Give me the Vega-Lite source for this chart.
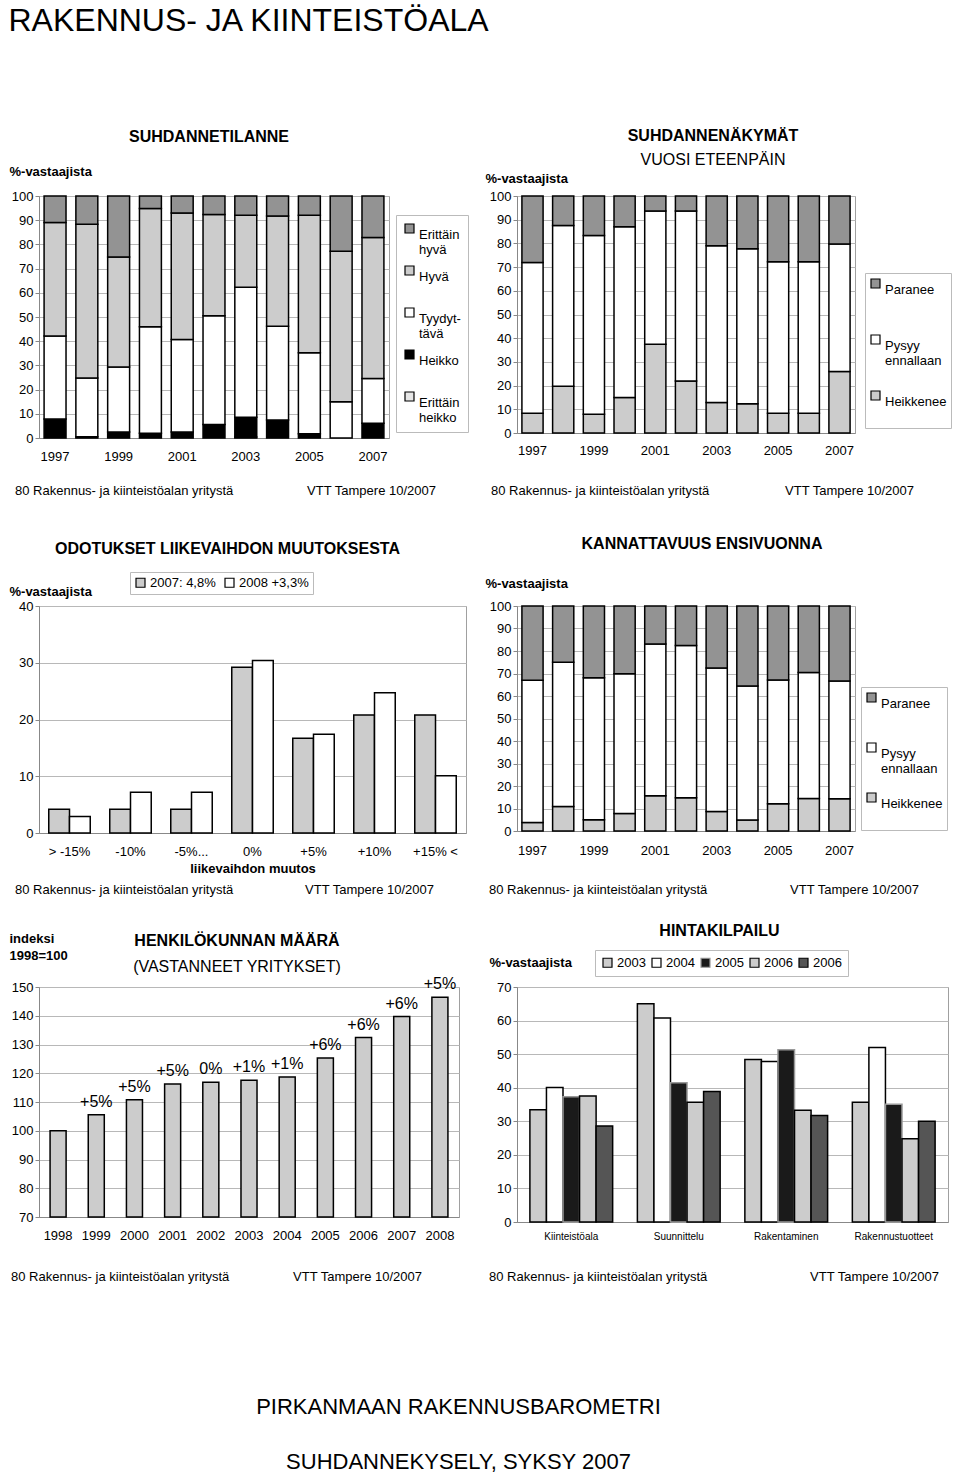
{
  "$schema": "https://vega.github.io/schema/vega-lite/v6.json",
  "background": "white",
  "padding": {"left": 8, "top": 4, "right": 0, "bottom": 0},
  "title": {"text": "RAKENNUS- JA KIINTEISTÖALA", "anchor": "start", "frame": "bounds", "fontSize": 32, "fontWeight": "normal", "offset": 90},
  "config": {
    "font": "Liberation Sans",
    "view": {"stroke": "#a0a0a0", "strokeWidth": 1},
    "axis": {"labelFontSize": 13, "labelColor": "#000000", "titleFontSize": 13, "titleFontWeight": "bold", "titleColor": "#000000", "domainColor": "#888888", "tickColor": "#888888", "gridColor": "#b8b8b8", "labelOverlap": false},
    "axisY": {"grid": true, "tickSize": 4, "labelPadding": 2, "titleAngle": 0, "titleAlign": "left", "titleBaseline": "middle"},
    "axisX": {"grid": false, "labelAngle": 0, "ticks": false, "tickSize": 0, "labelPadding": 12},
    "legend": {"labelFontSize": 13, "labelColor": "#000000", "symbolType": "square", "symbolSize": 81, "symbolStrokeColor": "#000000", "symbolStrokeWidth": 1.2, "strokeColor": "#bbbbbb", "fillColor": "white", "padding": 4, "labelOffset": 3},
    "title": {"fontSize": 16, "fontWeight": "bold", "color": "#000000", "subtitleColor": "#000000", "subtitleFontSize": 16, "subtitleFontWeight": "normal", "anchor": "middle", "frame": "group"}
  },
  "datasets": {
    "footer": [
      {"side": "l", "text": "80 Rakennus- ja kiinteistöalan yritystä"},
      {"side": "r", "text": "VTT Tampere 10/2007"}
    ],
    "bottom": [
      {"line": 1, "text": "PIRKANMAAN RAKENNUSBAROMETRI"},
      {"line": 2, "text": "SUHDANNEKYSELY,  SYKSY 2007"}
    ],
    "tilanne": [
      {"year": 1997, "level": "Heikko", "value": 7.8}, {"year": 1997, "level": "Tyydyttävä", "value": 34.4}, {"year": 1997, "level": "Hyvä", "value": 46.9}, {"year": 1997, "level": "Erittäin hyvä", "value": 10.9},
      {"year": 1998, "level": "Heikko", "value": 0.5}, {"year": 1998, "level": "Tyydyttävä", "value": 24.3}, {"year": 1998, "level": "Hyvä", "value": 63.5}, {"year": 1998, "level": "Erittäin hyvä", "value": 11.7},
      {"year": 1999, "level": "Heikko", "value": 2.5}, {"year": 1999, "level": "Tyydyttävä", "value": 26.8}, {"year": 1999, "level": "Hyvä", "value": 45.5}, {"year": 1999, "level": "Erittäin hyvä", "value": 25.2},
      {"year": 2000, "level": "Heikko", "value": 2.0}, {"year": 2000, "level": "Tyydyttävä", "value": 44.0}, {"year": 2000, "level": "Hyvä", "value": 48.8}, {"year": 2000, "level": "Erittäin hyvä", "value": 5.2},
      {"year": 2001, "level": "Heikko", "value": 2.5}, {"year": 2001, "level": "Tyydyttävä", "value": 38.2}, {"year": 2001, "level": "Hyvä", "value": 52.3}, {"year": 2001, "level": "Erittäin hyvä", "value": 7.0},
      {"year": 2002, "level": "Heikko", "value": 5.6}, {"year": 2002, "level": "Tyydyttävä", "value": 44.9}, {"year": 2002, "level": "Hyvä", "value": 41.9}, {"year": 2002, "level": "Erittäin hyvä", "value": 7.6},
      {"year": 2003, "level": "Erittäin heikko", "value": 0.4}, {"year": 2003, "level": "Heikko", "value": 8.2}, {"year": 2003, "level": "Tyydyttävä", "value": 53.7}, {"year": 2003, "level": "Hyvä", "value": 29.7}, {"year": 2003, "level": "Erittäin hyvä", "value": 8.0},
      {"year": 2004, "level": "Heikko", "value": 7.4}, {"year": 2004, "level": "Tyydyttävä", "value": 38.8}, {"year": 2004, "level": "Hyvä", "value": 45.5}, {"year": 2004, "level": "Erittäin hyvä", "value": 8.3},
      {"year": 2005, "level": "Heikko", "value": 1.8}, {"year": 2005, "level": "Tyydyttävä", "value": 33.4}, {"year": 2005, "level": "Hyvä", "value": 56.8}, {"year": 2005, "level": "Erittäin hyvä", "value": 8.0},
      {"year": 2006, "level": "Tyydyttävä", "value": 15.0}, {"year": 2006, "level": "Hyvä", "value": 62.2}, {"year": 2006, "level": "Erittäin hyvä", "value": 22.8},
      {"year": 2007, "level": "Heikko", "value": 6.1}, {"year": 2007, "level": "Tyydyttävä", "value": 18.5}, {"year": 2007, "level": "Hyvä", "value": 58.2}, {"year": 2007, "level": "Erittäin hyvä", "value": 17.2}
    ],
    "nakymat": [
      {"year": 1997, "level": "Heikkenee", "value": 8.3}, {"year": 1997, "level": "Pysyy ennallaan", "value": 63.6}, {"year": 1997, "level": "Paranee", "value": 28.1},
      {"year": 1998, "level": "Heikkenee", "value": 19.7}, {"year": 1998, "level": "Pysyy ennallaan", "value": 67.9}, {"year": 1998, "level": "Paranee", "value": 12.4},
      {"year": 1999, "level": "Heikkenee", "value": 7.9}, {"year": 1999, "level": "Pysyy ennallaan", "value": 75.4}, {"year": 1999, "level": "Paranee", "value": 16.7},
      {"year": 2000, "level": "Heikkenee", "value": 15.0}, {"year": 2000, "level": "Pysyy ennallaan", "value": 72.0}, {"year": 2000, "level": "Paranee", "value": 13.0},
      {"year": 2001, "level": "Heikkenee", "value": 37.4}, {"year": 2001, "level": "Pysyy ennallaan", "value": 56.3}, {"year": 2001, "level": "Paranee", "value": 6.3},
      {"year": 2002, "level": "Heikkenee", "value": 21.9}, {"year": 2002, "level": "Pysyy ennallaan", "value": 71.8}, {"year": 2002, "level": "Paranee", "value": 6.3},
      {"year": 2003, "level": "Heikkenee", "value": 12.9}, {"year": 2003, "level": "Pysyy ennallaan", "value": 66.1}, {"year": 2003, "level": "Paranee", "value": 21.0},
      {"year": 2004, "level": "Heikkenee", "value": 12.3}, {"year": 2004, "level": "Pysyy ennallaan", "value": 65.4}, {"year": 2004, "level": "Paranee", "value": 22.3},
      {"year": 2005, "level": "Heikkenee", "value": 8.3}, {"year": 2005, "level": "Pysyy ennallaan", "value": 64.0}, {"year": 2005, "level": "Paranee", "value": 27.7},
      {"year": 2006, "level": "Heikkenee", "value": 8.3}, {"year": 2006, "level": "Pysyy ennallaan", "value": 64.0}, {"year": 2006, "level": "Paranee", "value": 27.7},
      {"year": 2007, "level": "Heikkenee", "value": 25.9}, {"year": 2007, "level": "Pysyy ennallaan", "value": 53.8}, {"year": 2007, "level": "Paranee", "value": 20.3}
    ],
    "kannattavuus": [
      {"year": 1997, "level": "Heikkenee", "value": 3.8}, {"year": 1997, "level": "Pysyy ennallaan", "value": 63.2}, {"year": 1997, "level": "Paranee", "value": 33.0},
      {"year": 1998, "level": "Heikkenee", "value": 10.9}, {"year": 1998, "level": "Pysyy ennallaan", "value": 64.1}, {"year": 1998, "level": "Paranee", "value": 25.0},
      {"year": 1999, "level": "Heikkenee", "value": 5.0}, {"year": 1999, "level": "Pysyy ennallaan", "value": 63.1}, {"year": 1999, "level": "Paranee", "value": 31.9},
      {"year": 2000, "level": "Heikkenee", "value": 7.8}, {"year": 2000, "level": "Pysyy ennallaan", "value": 62.1}, {"year": 2000, "level": "Paranee", "value": 30.1},
      {"year": 2001, "level": "Heikkenee", "value": 15.7}, {"year": 2001, "level": "Pysyy ennallaan", "value": 67.4}, {"year": 2001, "level": "Paranee", "value": 16.9},
      {"year": 2002, "level": "Heikkenee", "value": 14.8}, {"year": 2002, "level": "Pysyy ennallaan", "value": 67.6}, {"year": 2002, "level": "Paranee", "value": 17.6},
      {"year": 2003, "level": "Heikkenee", "value": 8.7}, {"year": 2003, "level": "Pysyy ennallaan", "value": 63.8}, {"year": 2003, "level": "Paranee", "value": 27.5},
      {"year": 2004, "level": "Heikkenee", "value": 4.9}, {"year": 2004, "level": "Pysyy ennallaan", "value": 59.6}, {"year": 2004, "level": "Paranee", "value": 35.5},
      {"year": 2005, "level": "Heikkenee", "value": 12.1}, {"year": 2005, "level": "Pysyy ennallaan", "value": 55.0}, {"year": 2005, "level": "Paranee", "value": 32.9},
      {"year": 2006, "level": "Heikkenee", "value": 14.4}, {"year": 2006, "level": "Pysyy ennallaan", "value": 56.1}, {"year": 2006, "level": "Paranee", "value": 29.5},
      {"year": 2007, "level": "Heikkenee", "value": 14.3}, {"year": 2007, "level": "Pysyy ennallaan", "value": 52.4}, {"year": 2007, "level": "Paranee", "value": 33.3}
    ],
    "odotukset": [
      {"change": "> -15%", "series": "2007: 4,8%", "value": 4.2}, {"change": "> -15%", "series": "2008 +3,3%", "value": 2.9},
      {"change": "-10%", "series": "2007: 4,8%", "value": 4.2}, {"change": "-10%", "series": "2008 +3,3%", "value": 7.2},
      {"change": "-5%...", "series": "2007: 4,8%", "value": 4.2}, {"change": "-5%...", "series": "2008 +3,3%", "value": 7.2},
      {"change": "0%", "series": "2007: 4,8%", "value": 29.2}, {"change": "0%", "series": "2008 +3,3%", "value": 30.4},
      {"change": "+5%", "series": "2007: 4,8%", "value": 16.7}, {"change": "+5%", "series": "2008 +3,3%", "value": 17.4},
      {"change": "+10%", "series": "2007: 4,8%", "value": 20.8}, {"change": "+10%", "series": "2008 +3,3%", "value": 24.7},
      {"change": "+15% <", "series": "2007: 4,8%", "value": 20.8}, {"change": "+15% <", "series": "2008 +3,3%", "value": 10.1}
    ],
    "henkilo": [
      {"year": 1998, "index": 100.0, "label": ""},
      {"year": 1999, "index": 105.6, "label": "+5%"},
      {"year": 2000, "index": 110.8, "label": "+5%"},
      {"year": 2001, "index": 116.3, "label": "+5%"},
      {"year": 2002, "index": 116.9, "label": "0%"},
      {"year": 2003, "index": 117.6, "label": "+1%"},
      {"year": 2004, "index": 118.7, "label": "+1%"},
      {"year": 2005, "index": 125.3, "label": "+6%"},
      {"year": 2006, "index": 132.4, "label": "+6%"},
      {"year": 2007, "index": 139.7, "label": "+6%"},
      {"year": 2008, "index": 146.4, "label": "+5%"}
    ],
    "hinta": [
      {"sector": "Kiinteistöala", "year": "2003", "value": 33.4}, {"sector": "Kiinteistöala", "year": "2004", "value": 40.1}, {"sector": "Kiinteistöala", "year": "2005", "value": 37.3}, {"sector": "Kiinteistöala", "year": "2006", "value": 37.5}, {"sector": "Kiinteistöala", "year": "2006 ", "value": 28.6},
      {"sector": "Suunnittelu", "year": "2003", "value": 65.0}, {"sector": "Suunnittelu", "year": "2004", "value": 60.8}, {"sector": "Suunnittelu", "year": "2005", "value": 41.5}, {"sector": "Suunnittelu", "year": "2006", "value": 35.7}, {"sector": "Suunnittelu", "year": "2006 ", "value": 38.9},
      {"sector": "Rakentaminen", "year": "2003", "value": 48.4}, {"sector": "Rakentaminen", "year": "2004", "value": 47.8}, {"sector": "Rakentaminen", "year": "2005", "value": 51.3}, {"sector": "Rakentaminen", "year": "2006", "value": 33.3}, {"sector": "Rakentaminen", "year": "2006 ", "value": 31.7},
      {"sector": "Rakennustuotteet", "year": "2003", "value": 35.7}, {"sector": "Rakennustuotteet", "year": "2004", "value": 52.0}, {"sector": "Rakennustuotteet", "year": "2005", "value": 35.1}, {"sector": "Rakennustuotteet", "year": "2006", "value": 24.8}, {"sector": "Rakennustuotteet", "year": "2006 ", "value": 30.0}
    ]
  },
  "columns": 2,
  "bounds": "flush",
  "align": "each",
  "spacing": {"row": 0, "column": 51},
  "resolve": {
    "scale": {"fill": "independent", "stroke": "independent", "xOffset": "independent", "x": "independent", "y": "independent"},
    "legend": {"fill": "independent", "stroke": "independent"}
  },
  "concat": [
    {
      "width": 350, "height": 242,
      "data": {"name": "tilanne"},
      "title": {"text": "SUHDANNETILANNE", "offset": 20, "dx": -5},
      "transform": [{"calculate": "indexof(['Erittäin hyvä','Hyvä','Tyydyttävä','Heikko','Erittäin heikko'], datum.level)", "as": "stackrank"}],
      "mark": {"type": "bar", "stroke": "#000000", "strokeWidth": 1.5},
      "encoding": {
        "x": {"field": "year", "type": "ordinal", "scale": {"paddingInner": 0.31, "paddingOuter": 0.16}, "axis": {"values": [1997, 1999, 2001, 2003, 2005, 2007], "title": null}},
        "y": {"field": "value", "type": "quantitative", "stack": "zero", "scale": {"domain": [0, 100]}, "axis": {"values": [0, 10, 20, 30, 40, 50, 60, 70, 80, 90, 100], "title": "%-vastaajista", "titleX": -30, "titleY": -25}},
        "fill": {"field": "level", "type": "nominal", "scale": {"domain": ["Erittäin hyvä", "Hyvä", "Tyydyttävä", "Heikko", "Erittäin heikko"], "range": ["#939393", "#cccccc", "#ffffff", "#000000", "#e6e6e6"]},
          "legend": {"title": null, "orient": "none", "legendX": 357, "legendY": 19, "rowPadding": 6, "padding": 7, "labelBaseline": "top", "labelExpr": "datum.label == 'Tyydyttävä' ? ['Tyydyt-', 'tävä'] : datum.label == 'Erittäin hyvä' ? ['Erittäin', 'hyvä'] : datum.label == 'Erittäin heikko' ? ['Erittäin', 'heikko'] : [datum.label, '']"}},
        "order": {"field": "stackrank", "sort": "descending"}
      }
    },
    {
      "width": 338, "height": 237,
      "data": {"name": "nakymat"},
      "title": {"text": "SUHDANNENÄKYMÄT", "subtitle": "VUOSI ETEENPÄIN", "subtitlePadding": 8, "offset": 4, "dx": 27},
      "transform": [{"calculate": "indexof(['Paranee','Pysyy ennallaan','Heikkenee'], datum.level)", "as": "stackrank"}],
      "mark": {"type": "bar", "stroke": "#000000", "strokeWidth": 1.5},
      "encoding": {
        "x": {"field": "year", "type": "ordinal", "scale": {"paddingInner": 0.31, "paddingOuter": 0.16}, "axis": {"values": [1997, 1999, 2001, 2003, 2005, 2007], "title": null, "labelPadding": 11}},
        "y": {"field": "value", "type": "quantitative", "stack": "zero", "scale": {"domain": [0, 100]}, "axis": {"values": [0, 10, 20, 30, 40, 50, 60, 70, 80, 90, 100], "title": "%-vastaajista", "titleX": -32, "titleY": -18}},
        "fill": {"field": "level", "type": "nominal", "scale": {"domain": ["Paranee", "Pysyy ennallaan", "Heikkenee"], "range": ["#939393", "#ffffff", "#cccccc"]},
          "legend": {"title": null, "orient": "none", "legendX": 348, "legendY": 77, "rowPadding": 20, "labelBaseline": "top", "labelExpr": "datum.label == 'Pysyy ennallaan' ? ['Pysyy', 'ennallaan'] : [datum.label, '']"}},
        "order": {"field": "stackrank", "sort": "descending"}
      }
    },
    {
      "width": 427, "height": 168, "view": {"stroke": null},
      "data": {"name": "footer"},
      "layer": [
        {"transform": [{"filter": "datum.side == 'l'"}], "mark": {"type": "text", "align": "left", "baseline": "middle", "fontSize": 13, "dx": -24, "dy": -31},
          "encoding": {"x": {"field": "side", "type": "nominal", "scale": {"type": "point", "padding": 0, "domain": ["l", "r"]}, "axis": null}, "text": {"field": "text"}}},
        {"transform": [{"filter": "datum.side == 'r'"}], "mark": {"type": "text", "align": "right", "baseline": "middle", "fontSize": 13, "dx": -30, "dy": -31},
          "encoding": {"x": {"field": "side", "type": "nominal", "scale": {"type": "point", "padding": 0, "domain": ["l", "r"]}, "axis": null}, "text": {"field": "text"}}}
      ]
    },
    {
      "width": 431, "height": 168, "view": {"stroke": null},
      "data": {"name": "footer"},
      "layer": [
        {"transform": [{"filter": "datum.side == 'l'"}], "mark": {"type": "text", "align": "left", "baseline": "middle", "fontSize": 13, "dx": -26, "dy": -31},
          "encoding": {"x": {"field": "side", "type": "nominal", "scale": {"type": "point", "padding": 0, "domain": ["l", "r"]}, "axis": null}, "text": {"field": "text"}}},
        {"transform": [{"filter": "datum.side == 'r'"}], "mark": {"type": "text", "align": "right", "baseline": "middle", "fontSize": 13, "dx": -34, "dy": -31},
          "encoding": {"x": {"field": "side", "type": "nominal", "scale": {"type": "point", "padding": 0, "domain": ["l", "r"]}, "axis": null}, "text": {"field": "text"}}}
      ]
    },
    {
      "width": 427, "height": 227,
      "data": {"name": "odotukset"},
      "title": {"text": "ODOTUKSET LIIKEVAIHDON MUUTOKSESTA", "offset": 15, "dx": -25},
      "mark": {"type": "bar", "stroke": "#000000", "strokeWidth": 1.5},
      "encoding": {
        "x": {"field": "change", "type": "nominal", "sort": ["> -15%", "-10%", "-5%...", "0%", "+5%", "+10%", "+15% <"], "scale": {"paddingInner": 0.32, "paddingOuter": 0.16}, "axis": {"title": "liikevaihdon muutos", "titlePadding": 4}},
        "xOffset": {"field": "series", "type": "nominal", "sort": ["2007: 4,8%", "2008 +3,3%"]},
        "y": {"field": "value", "type": "quantitative", "scale": {"domain": [0, 40]}, "axis": {"values": [0, 10, 20, 30, 40], "title": "%-vastaajista", "titleX": -30, "titleY": -15}},
        "fill": {"field": "series", "type": "nominal", "scale": {"domain": ["2007: 4,8%", "2008 +3,3%"], "range": ["#cccccc", "#ffffff"]},
          "legend": {"title": null, "orient": "none", "direction": "horizontal", "legendX": 91, "legendY": -34, "columnPadding": 6, "padding": 4}}
      }
    },
    {
      "width": 338, "height": 225,
      "data": {"name": "kannattavuus"},
      "title": {"text": "KANNATTAVUUS ENSIVUONNA", "offset": 25, "dx": 16},
      "transform": [{"calculate": "indexof(['Paranee','Pysyy ennallaan','Heikkenee'], datum.level)", "as": "stackrank"}],
      "mark": {"type": "bar", "stroke": "#000000", "strokeWidth": 1.5},
      "encoding": {
        "x": {"field": "year", "type": "ordinal", "scale": {"paddingInner": 0.31, "paddingOuter": 0.16}, "axis": {"values": [1997, 1999, 2001, 2003, 2005, 2007], "title": null, "labelPadding": 13}},
        "y": {"field": "value", "type": "quantitative", "stack": "zero", "scale": {"domain": [0, 100]}, "axis": {"values": [0, 10, 20, 30, 40, 50, 60, 70, 80, 90, 100], "title": "%-vastaajista", "titleX": -32, "titleY": -23}},
        "fill": {"field": "level", "type": "nominal", "scale": {"domain": ["Paranee", "Pysyy ennallaan", "Heikkenee"], "range": ["#939393", "#ffffff", "#cccccc"]},
          "legend": {"title": null, "orient": "none", "legendX": 344, "legendY": 81, "rowPadding": 14, "labelBaseline": "top", "labelExpr": "datum.label == 'Pysyy ennallaan' ? ['Pysyy', 'ennallaan'] : [datum.label, '']"}},
        "order": {"field": "stackrank", "sort": "descending"}
      }
    },
    {
      "width": 427, "height": 154, "view": {"stroke": null},
      "data": {"name": "footer"},
      "layer": [
        {"transform": [{"filter": "datum.side == 'l'"}], "mark": {"type": "text", "align": "left", "baseline": "middle", "fontSize": 13, "dx": -24, "dy": -20},
          "encoding": {"x": {"field": "side", "type": "nominal", "scale": {"type": "point", "padding": 0, "domain": ["l", "r"]}, "axis": null}, "text": {"field": "text"}}},
        {"transform": [{"filter": "datum.side == 'r'"}], "mark": {"type": "text", "align": "right", "baseline": "middle", "fontSize": 13, "dx": -32, "dy": -20},
          "encoding": {"x": {"field": "side", "type": "nominal", "scale": {"type": "point", "padding": 0, "domain": ["l", "r"]}, "axis": null}, "text": {"field": "text"}}}
      ]
    },
    {
      "width": 431, "height": 154, "view": {"stroke": null},
      "data": {"name": "footer"},
      "layer": [
        {"transform": [{"filter": "datum.side == 'l'"}], "mark": {"type": "text", "align": "left", "baseline": "middle", "fontSize": 13, "dx": -28, "dy": -20},
          "encoding": {"x": {"field": "side", "type": "nominal", "scale": {"type": "point", "padding": 0, "domain": ["l", "r"]}, "axis": null}, "text": {"field": "text"}}},
        {"transform": [{"filter": "datum.side == 'r'"}], "mark": {"type": "text", "align": "right", "baseline": "middle", "fontSize": 13, "dx": -29, "dy": -20},
          "encoding": {"x": {"field": "side", "type": "nominal", "scale": {"type": "point", "padding": 0, "domain": ["l", "r"]}, "axis": null}, "text": {"field": "text"}}}
      ]
    },
    {
      "width": 420, "height": 230,
      "data": {"name": "henkilo"},
      "title": {"text": "HENKILÖKUNNAN MÄÄRÄ", "subtitle": "(VASTANNEET YRITYKSET)", "subtitlePadding": 10, "offset": -43, "dx": -12},
      "encoding": {
        "x": {"field": "year", "type": "ordinal", "scale": {"paddingInner": 0.58, "paddingOuter": 0.29}, "axis": {"title": null}},
        "y": {"field": "index", "type": "quantitative", "scale": {"domain": [70, 150], "zero": false}, "axis": {"values": [70, 80, 90, 100, 110, 120, 130, 140, 150], "labelOverlap": false, "title": ["indeksi", "1998=100"], "titleX": -30, "titleY": -42, "titleBaseline": "bottom", "titleLineHeight": 17}}
      },
      "layer": [
        {"mark": {"type": "bar", "fill": "#cccccc", "stroke": "#000000", "strokeWidth": 1.5},
          "encoding": {"y2": {"datum": 70}}},
        {"mark": {"type": "text", "baseline": "bottom", "fontSize": 16, "dy": -5},
          "encoding": {"text": {"field": "label"}}}
      ]
    },
    {
      "width": 431, "height": 235,
      "data": {"name": "hinta"},
      "title": {"text": "HINTAKILPAILU", "offset": 11, "dx": -13},
      "mark": {"type": "bar", "strokeWidth": 1.5},
      "encoding": {
        "x": {"field": "sector", "type": "nominal", "sort": ["Kiinteistöala", "Suunnittelu", "Rakentaminen", "Rakennustuotteet"], "scale": {"paddingInner": 0.23, "paddingOuter": 0.12}, "axis": {"title": null, "labelFontSize": 10, "labelPadding": 9}},
        "xOffset": {"field": "year", "type": "nominal", "sort": ["2003", "2004", "2005", "2006", "2006 "]},
        "y": {"field": "value", "type": "quantitative", "scale": {"domain": [0, 70]}, "axis": {"values": [0, 10, 20, 30, 40, 50, 60, 70], "title": "%-vastaajista", "titleX": -28, "titleY": -25}},
        "fill": {"field": "year", "type": "nominal", "scale": {"domain": ["2003", "2004", "2005", "2006", "2006 "], "range": ["#cccccc", "#ffffff", "#1a1a1a", "#cccccc", "#555555"]},
          "legend": {"title": null, "orient": "none", "direction": "horizontal", "legendX": 78, "legendY": -37, "columnPadding": 3, "padding": 6}},
        "stroke": {"field": "year", "type": "nominal", "scale": {"domain": ["2003", "2004", "2005", "2006", "2006 "], "range": ["#000000", "#000000", "#999999", "#000000", "#000000"]}, "legend": null}
      }
    },
    {
      "width": 427, "height": 185, "view": {"stroke": null},
      "data": {"name": "footer"},
      "layer": [
        {"transform": [{"filter": "datum.side == 'l'"}], "mark": {"type": "text", "align": "left", "baseline": "middle", "fontSize": 13, "dx": -28, "dy": -38},
          "encoding": {"x": {"field": "side", "type": "nominal", "scale": {"type": "point", "padding": 0, "domain": ["l", "r"]}, "axis": null}, "text": {"field": "text"}}},
        {"transform": [{"filter": "datum.side == 'r'"}], "mark": {"type": "text", "align": "right", "baseline": "middle", "fontSize": 13, "dx": -44, "dy": -38},
          "encoding": {"x": {"field": "side", "type": "nominal", "scale": {"type": "point", "padding": 0, "domain": ["l", "r"]}, "axis": null}, "text": {"field": "text"}}}
      ]
    },
    {
      "width": 431, "height": 185, "view": {"stroke": null},
      "data": {"name": "footer"},
      "layer": [
        {"transform": [{"filter": "datum.side == 'l'"}], "mark": {"type": "text", "align": "left", "baseline": "middle", "fontSize": 13, "dx": -28, "dy": -38},
          "encoding": {"x": {"field": "side", "type": "nominal", "scale": {"type": "point", "padding": 0, "domain": ["l", "r"]}, "axis": null}, "text": {"field": "text"}}},
        {"transform": [{"filter": "datum.side == 'r'"}], "mark": {"type": "text", "align": "right", "baseline": "middle", "fontSize": 13, "dx": -9, "dy": -38},
          "encoding": {"x": {"field": "side", "type": "nominal", "scale": {"type": "point", "padding": 0, "domain": ["l", "r"]}, "axis": null}, "text": {"field": "text"}}}
      ]
    },
    {
      "width": 427, "height": 55, "view": {"stroke": null},
      "data": {"name": "bottom"},
      "mark": {"type": "text", "fontSize": 22, "baseline": "middle", "dx": 206},
      "encoding": {
        "y": {"field": "line", "type": "ordinal", "scale": {"type": "point", "padding": 0}, "axis": null},
        "text": {"field": "text"}
      }
    }
  ]
}
